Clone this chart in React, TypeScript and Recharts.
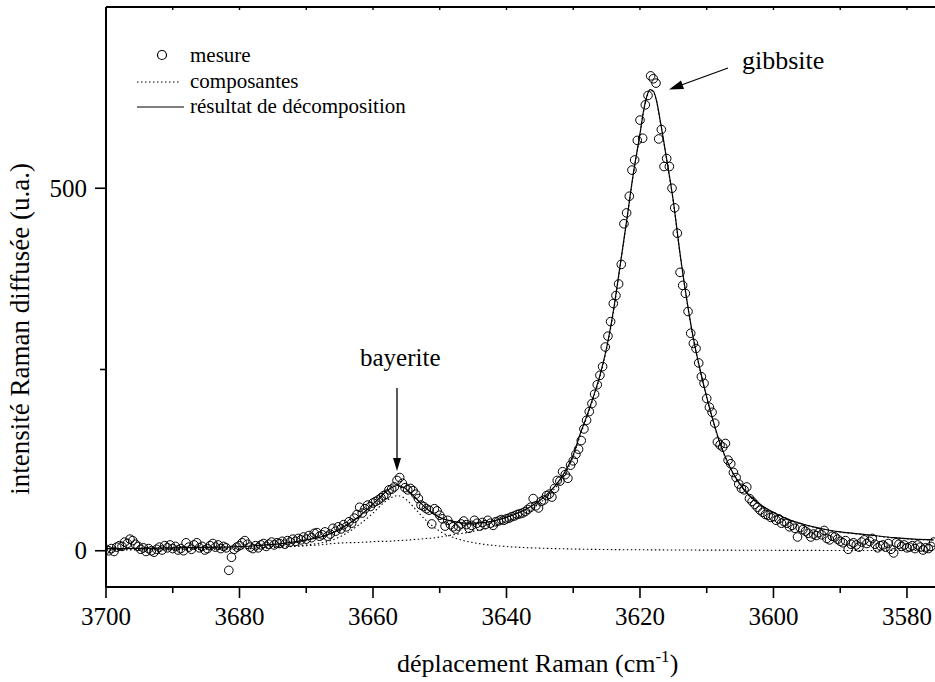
import React from 'react';
import { ComposedChart, Line, Scatter, XAxis, YAxis } from 'recharts';

const FONT = '"Liberation Serif", "Times New Roman", serif';

// measured spectrum: one point every 0.4 cm-1, from 3700 down to 3576
const MEAS_START = 3700;
const MEAS_STEP = 0.4;
const measY = [
  2, 0, 3, -1, 5, 7, 6, 12, 10, 16,
  14, 9, 6, 2, 4, -1, 3, 0, -2, 2,
  5, 1, 7, 4, 8, 3, 6, 1, 3, 0,
  11, 5, 2, 8, 11, 4, 6, 1, 3, 7,
  10, 5, 8, 3, 6, 4, -27, -9, 2, 5,
  7, 11, 14, 9, 5, 3, 7, 4, 8, 10,
  6, 9, 12, 8, 11, 10, 13, 9, 14, 12,
  16, 13, 17, 15, 19, 16, 21, 18, 24, 25,
  20, 22, 26, 20, 23, 31, 27, 33, 30, 36,
  33, 40, 38, 45, 50, 60, 52, 58, 63, 61,
  66, 68, 70, 73, 76, 78, 84, 85, 88, 97,
  101, 93, 87, 84, 86, 83, 78, 72, 63, 61,
  58, 56, 37, 58, 55, 49, 44, 34, 42, 36,
  33, 30, 34, 37, 41, 36, 31, 35, 42, 38,
  34, 39, 36, 42, 38, 35, 40, 41, 43, 42,
  44, 45, 47, 48, 50, 51, 52, 54, 57, 60,
  72, 62, 59, 68, 70, 76, 78, 74, 86, 97,
  96, 109, 105, 100, 118, 124, 133, 140, 152, 168,
  180, 192, 203, 216, 229, 242, 254, 281, 296, 316,
  341, 352, 368, 395, 451, 466, 489, 525, 539, 566,
  594, 569, 615, 628, 655, 651, 645, 568, 581, 530,
  541, 530, 500, 473, 438, 384, 366, 355, 330, 300,
  286, 279, 259, 240, 231, 210, 198, 191, 176, 150,
  146, 143, 148, 125, 120, 108, 101, 92, 86, 84,
  88, 72, 68, 64, 60, 56, 53, 50, 49, 46,
  47, 42, 44, 38, 40, 38, 33, 35, 31, 19,
  32, 29, 27, 24, 19, 23, 21, 25, 22, 28,
  17, 15, 20, 19, 16, 13, 11, 14, 2, 9,
  11, 8, 5, 12, 15, 10, 13, 17, 9, 4,
  7, 8, 5, 10, 2, -3, 11, 9, 6, 8,
  4, 5, 7, 3, 8, 5, 1, 4, 3, 6,
  12,
];

// fitted curves sampled on a shared x grid
const curveX = [
  3700, 3695, 3690, 3685, 3680, 3676, 3672, 3670, 3668, 3666,
  3664, 3662, 3660, 3659, 3658, 3657, 3656.3, 3655, 3654, 3653,
  3652, 3651, 3650, 3649, 3648, 3646, 3644, 3642, 3640, 3638,
  3636, 3634, 3632, 3630, 3629, 3628, 3627, 3626, 3625, 3624,
  3623, 3622, 3621, 3620, 3619.5, 3619, 3618.5, 3618, 3617.5, 3617,
  3616, 3615, 3614, 3613, 3612, 3611, 3610, 3609, 3608, 3607,
  3606, 3605, 3604, 3602, 3600, 3598, 3596, 3594, 3592, 3590,
  3588, 3585, 3582, 3579, 3576,
];
const fitY = [
  2.8, 3.3, 4, 4.7, 5.6, 8, 12, 15, 18.5, 25,
  35, 48, 64.5, 73, 82, 88, 90, 85, 76.5, 67,
  58.5, 51, 46, 42.5, 40.5, 38, 38.5, 41, 46, 53,
  63, 77, 98, 132, 160, 185, 212, 242, 280, 330,
  392, 455, 520, 575, 605, 626, 636, 634, 620, 595,
  540, 482, 410, 347, 293, 250, 212, 178, 148, 125,
  106, 92, 80, 64, 53, 44, 38, 33, 29, 26,
  24, 21, 18, 16, 15,
];
const gibbsiteY = [
  2, 2.2, 2.5, 2.7, 3, 4.2, 6, 7, 8, 10,
  11, 11.5, 12.5, 13, 13, 13.5, 14, 14.5, 15.5, 16,
  17, 17.5, 19, 20.5, 22, 25, 28.8, 33.6, 40.2, 48.3,
  59, 74, 95, 130, 158, 183, 210, 240, 278, 328,
  390, 454, 519, 574, 604, 625, 635, 633, 619, 594,
  539, 481, 409, 346, 292, 249, 211, 177, 147, 124,
  105, 91, 79, 63.4, 52.5, 43.5, 37.5, 32.6, 28.6, 25.6,
  23.6, 20.7, 17.7, 15.8, 14.8,
];
const bayeriteY = [
  0.8, 1.1, 1.5, 2, 2.6, 3.8, 6, 8, 10.5, 15,
  24, 36.5, 52, 61, 69, 74.5, 76, 70.5, 61, 51,
  41.5, 33.5, 27, 22, 18.5, 13, 9.7, 7.4, 5.8, 4.7,
  3.9, 3.3, 2.8, 2.4, 2.2, 2, 1.9, 1.8, 1.7, 1.6,
  1.5, 1.4, 1.4, 1.3, 1.3, 1.3, 1.2, 1.2, 1.2, 1.2,
  1.1, 1.1, 1, 1, 1, 0.9, 0.9, 0.9, 0.8, 0.8,
  0.8, 0.7, 0.7, 0.6, 0.6, 0.5, 0.5, 0.5, 0.4, 0.4,
  0.4, 0.3, 0.3, 0.3, 0.2,
];

const xTicks = [3700, 3690, 3680, 3670, 3660, 3650, 3640, 3630, 3620, 3610, 3600, 3590, 3580];
const xLabels = [3700, 3680, 3660, 3640, 3620, 3600, 3580];
const yTicks = [0, 250, 500];
const yLabels = [0, 500];

const measured = measY.map((y, i) => ({ x: +(MEAS_START - i * MEAS_STEP).toFixed(1), y }));
const toSeries = (ys: number[]) => curveX.map((x, i) => ({ x, y: ys[i] }));
const fitData = toSeries(fitY);
const gibbsiteData = toSeries(gibbsiteY);
const bayeriteData = toSeries(bayeriteY);

const XDOMAIN: [number, number] = [3575.8, 3700];
const serif = { fontFamily: FONT };

function BottomTick(props: any) {
  const { x, y, payload } = props;
  const major = xLabels.includes(payload.value);
  return (
    <g>
      <line x1={x} x2={x} y1={y} y2={y + (major ? 11 : 6)} stroke="#000" strokeWidth={1.6} />
      {major && (
        <text x={x} y={y + 38} textAnchor="middle" fontSize={25} style={serif} fill="#000">
          {payload.value}
        </text>
      )}
    </g>
  );
}

function TopTick(props: any) {
  const { x, y } = props;
  return <line x1={x} x2={x} y1={y} y2={y + 3} stroke="#000" strokeWidth={1.4} />;
}

function LeftTick(props: any) {
  const { x, y, payload } = props;
  const major = yLabels.includes(payload.value);
  return (
    <g>
      <line x1={x - (major ? 11 : 6)} x2={x} y1={y} y2={y} stroke="#000" strokeWidth={1.6} />
      {major && (
        <text x={x - 19} y={y + 8.5} textAnchor="end" fontSize={25} style={serif} fill="#000">
          {payload.value}
        </text>
      )}
    </g>
  );
}

const circle = (p: any) => (
  <circle cx={p.cx} cy={p.cy} r={4.3} fill="none" stroke="#000" strokeWidth={1} />
);

export default function App() {
  return (
    <div style={{ position: 'absolute', left: 0, top: 0, width: 935, height: 682, background: '#fff' }}>
      <ComposedChart width={935} height={682} margin={{ top: 0, right: 0, bottom: 0, left: 0 }}>
        <XAxis
          dataKey="x"
          type="number"
          domain={XDOMAIN}
          reversed
          allowDataOverflow
          ticks={xTicks}
          interval={0}
          height={95}
          tickSize={0}
          tickMargin={0}
          tickLine={false}
          axisLine={{ stroke: '#000', strokeWidth: 2 }}
          tick={(p: any) => <BottomTick {...p} />}
        />
        <XAxis
          xAxisId="top"
          orientation="top"
          dataKey="x"
          type="number"
          domain={XDOMAIN}
          reversed
          allowDataOverflow
          ticks={xTicks}
          interval={0}
          height={7}
          tickSize={0}
          tickMargin={0}
          tickLine={false}
          axisLine={{ stroke: '#000', strokeWidth: 2 }}
          tick={(p: any) => <TopTick {...p} />}
        />
        <YAxis
          dataKey="y"
          type="number"
          domain={[-50, 750]}
          allowDataOverflow
          ticks={yTicks}
          interval={0}
          width={106}
          tickSize={0}
          tickMargin={0}
          tickLine={false}
          axisLine={{ stroke: '#000', strokeWidth: 2 }}
          tick={(p: any) => <LeftTick {...p} />}
        />
        <Scatter data={measured} dataKey="y" shape={circle} isAnimationActive={false} />
        <Line data={gibbsiteData} dataKey="y" type="monotone" stroke="#000" strokeWidth={1.1}
          strokeDasharray="1.5 2.5" dot={false} activeDot={false} isAnimationActive={false} />
        <Line data={bayeriteData} dataKey="y" type="monotone" stroke="#000" strokeWidth={1.1}
          strokeDasharray="1.5 2.5" dot={false} activeDot={false} isAnimationActive={false} />
        <Line data={fitData} dataKey="y" type="monotone" stroke="#000" strokeWidth={1.2}
          dot={false} activeDot={false} isAnimationActive={false} />
      </ComposedChart>

      <svg width={935} height={682} style={{ position: 'absolute', left: 0, top: 0, pointerEvents: 'none', ...serif }}
        fill="#000">
        {/* legend */}
        <circle cx={162} cy={55} r={4.5} fill="none" stroke="#000" strokeWidth={1.2} />
        <text x={190} y={62} fontSize={21}>mesure</text>
        <line x1={137} x2={179} y1={82} y2={82} stroke="#000" strokeWidth={1.1} strokeDasharray="1.5 2.5" />
        <text x={190} y={88} fontSize={21}>composantes</text>
        <line x1={137} x2={184} y1={107} y2={107} stroke="#000" strokeWidth={1.2} />
        <text x={190} y={113} fontSize={21}>résultat de décomposition</text>

        {/* annotations */}
        <text x={742} y={69} fontSize={26}>gibbsite</text>
        <line x1={728} y1={68} x2={680} y2={85.5} stroke="#000" strokeWidth={1.3} />
        <polygon points="669,89.5 681,80.5 684,89" fill="#000" />
        <text x={360} y={366} fontSize={25}>bayerite</text>
        <line x1={397} y1={388} x2={397} y2={460} stroke="#000" strokeWidth={1.3} />
        <polygon points="397,471 393,458 401,458" fill="#000" />

        {/* axis titles */}
        <text x={397} y={672} fontSize={26}>
          déplacement Raman (cm<tspan dy={-10} fontSize={17}>-1</tspan><tspan dy={10}>)</tspan>
        </text>
        <text transform="translate(29,163) rotate(-90)" textAnchor="end" fontSize={27}>
          intensité Raman diffusée (u.a.)
        </text>
      </svg>
    </div>
  );
}
